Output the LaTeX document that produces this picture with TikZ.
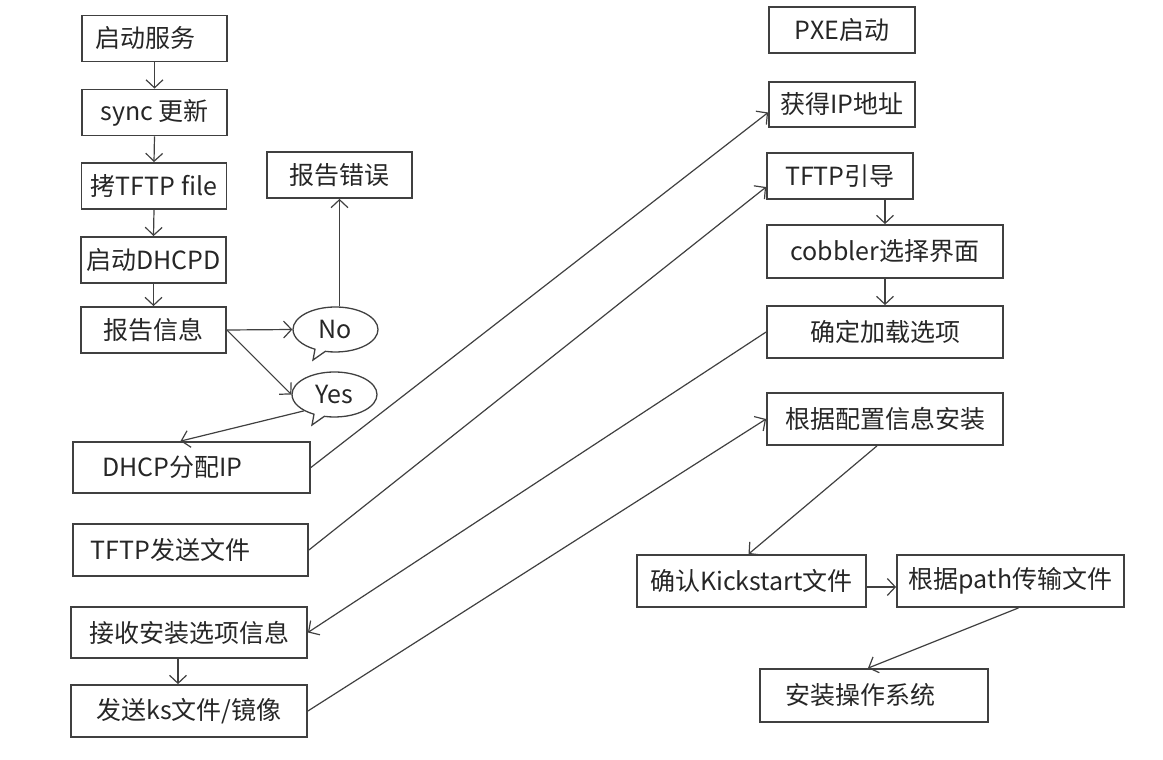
\documentclass[tikz,border=0pt]{standalone}
\usepackage{fontspec}
\newfontfamily\cjk{Noto Sans CJK SC}
\usetikzlibrary{arrows.meta,shapes.callouts}

\begin{document}
\begin{tikzpicture}[x=1pt,y=-1pt,
  box/.style={draw=black!75,line width=1.8pt,minimum width=#1,minimum height=46pt,inner sep=0pt,
    text=black!85,font=\cjk\fontsize{25}{28}\selectfont},
  box/.default=145pt,
  bubble/.style={ellipse callout,draw=black!75,line width=1.3pt,minimum width=85pt,minimum height=45pt,
    inner sep=0pt,text=black!85,font=\cjk\fontsize{25}{28}\selectfont},
  link/.style={draw=black!75,line width=1.2pt,-{Straight Barb[length=8pt,width=17pt]}}]
\useasboundingbox (0,0) rectangle (1163,760);

% server side
\node[box] (qd) at (154.5,38.5) {启动服务\hspace*{19pt}};
\node[box] (sync) at (154.5,112.5) {sync 更新};
\node[box] (copy) at (154,186) {拷TFTP file};
\node[box] (dhcpd) at (153.5,260) {启动DHCPD};
\node[box] (bg) at (153.5,330) {报告信息};
\node[box] (err) at (339.5,175) {报告错误};
\node[bubble,callout absolute pointer={(313,360)}] (no) at (335.5,329.5) {No};
\node[bubble,callout absolute pointer={(312,425)}] (yes) at (334.5,394.5) {Yes};
\node[box=237pt,minimum height=51pt] (dhcp) at (191.5,467.5) {DHCP分配IP\hspace*{38pt}};
\node[box=235pt,minimum height=52pt] (tftpsend) at (190.5,550) {TFTP发送文件\hspace*{40pt}};
\node[box=236pt,minimum height=51pt] (recv) at (189,632.5) {接收安装选项信息};
\node[box=236pt,minimum height=52pt] (sendks) at (189,711) {发送ks文件/镜像};

% client side
\node[box=146pt] (pxe) at (842,30) {PXE启动};
\node[box=146pt,minimum height=45pt] (ip) at (842,104.5) {获得IP地址};
\node[box=146pt] (guide) at (840,176) {TFTP引导};
\node[box=236pt,minimum height=53pt] (cobbler) at (885,251.5) {cobbler选择界面};
\node[box=236pt,minimum height=52pt] (sure) at (885,332) {确定加载选项};
\node[box=236pt,minimum height=52pt] (cfg) at (885,419) {根据配置信息安装};
\node[box=229pt,minimum height=52pt] (ks) at (751.5,581) {确认Kickstart文件};
\node[box=227pt,minimum height=52pt] (path) at (1010.5,581) {根据path传输文件};
\node[box=228pt,minimum height=53pt] (os) at (874,695.5) {安装操作系统\hspace*{28pt}};

\draw[link] (qd.south) -- (sync.north);
\draw[link] (sync.south) -- (copy.north);
\draw[link] (copy.south) -- (dhcpd.north);
\draw[link] (dhcpd.south) -- (bg.north);
\draw[link] (bg.east) -- (no.west);
\draw[link] (err.south |- no.north) -- (err.south);
\draw[link] (bg.east) -- (yes.west);
\draw[link] (yes.south west) -- ([xshift=-11pt]dhcp.north);
\draw[link] (dhcp.east) -- ([yshift=-8pt]ip.west);
\draw[link] (tftpsend.east) -- ([yshift=-11pt]guide.west);
\draw[link] (sure.west) -- (recv.east);
\draw[link] ([xshift=-11pt]recv.south) -- ([xshift=-11pt]sendks.north);
\draw[link] (sendks.east) -- (cfg.west);
\draw[link] (guide.south -| cobbler.north) -- (cobbler.north);
\draw[link] (cobbler.south) -- (sure.north);
\draw[link] ([xshift=-8pt]cfg.south) -- ([xshift=-3pt]ks.north);
\draw[link] ([yshift=-6pt]ks.east) -- ([yshift=-6pt]path.west);
\draw[link] ([xshift=8pt]path.south) -- ([xshift=-6pt]os.north);
\end{tikzpicture}
\end{document}
